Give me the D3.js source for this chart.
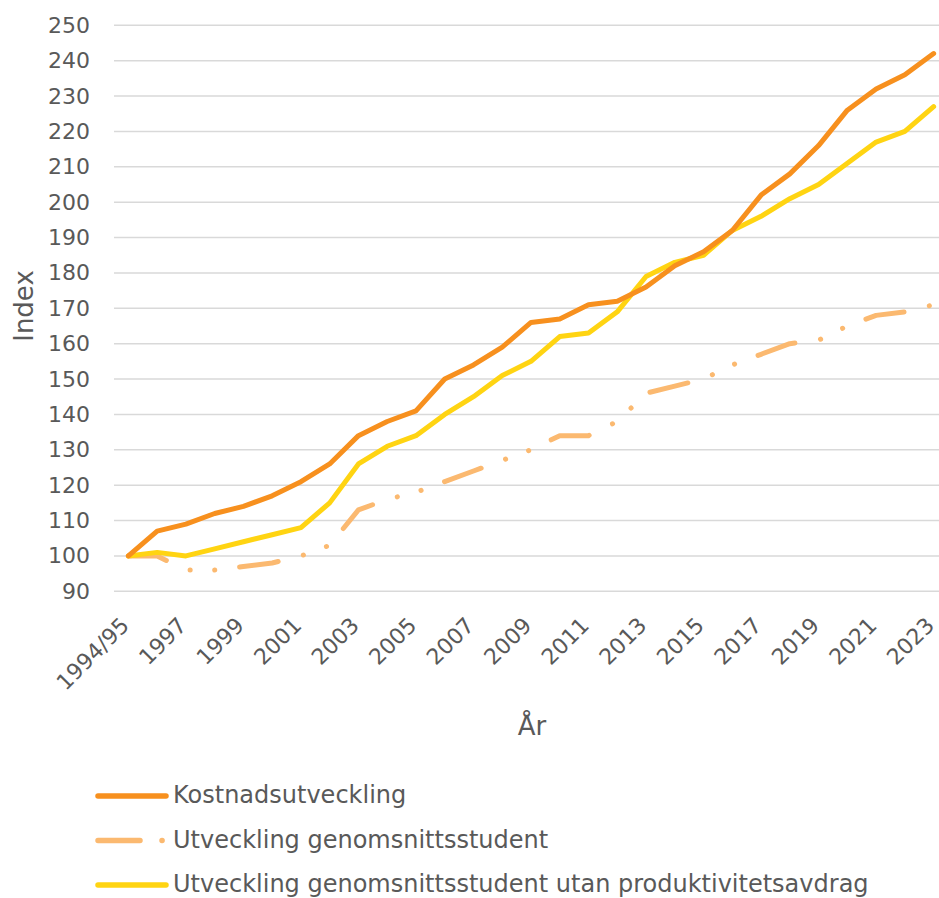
<!DOCTYPE html>
<html>
<head>
<meta charset="utf-8">
<script src="https://cdn.jsdelivr.net/npm/d3@7"></script>
<style>
  body { margin: 0; background: #fff; }
  svg { display: block; font-family: Verdana, "DejaVu Sans", sans-serif; }
</style>
</head>
<body>
<div id="chart"></div>
<script>
// categories (x axis)
const years = ['1994/95', '1996', '1997', '1998', '1999', '2000', '2001', '2002', '2003', '2004',
  '2005', '2006', '2007', '2008', '2009', '2010', '2011', '2012', '2013', '2014',
  '2015', '2016', '2017', '2018', '2019', '2020', '2021', '2022', '2023'];

// series values
const kostnad = [100, 107, 109, 112, 114, 117, 121, 126, 134, 138,
  141, 150, 154, 159, 166, 167, 171, 172, 176, 182,
  186, 192, 202, 208, 216, 226, 232, 236, 242];
const genomsnitt = [100, 100, 96, 96, 97, 98, 100, 103, 113, 116,
  118, 121, 124, 127, 130, 134, 134, 138, 146, 148,
  150, 154, 157, 160, 161, 165, 168, 169, 171];
const utanAvdrag = [100, 101, 100, 102, 104, 106, 108, 115, 126, 131,
  134, 140, 145, 151, 155, 162, 163, 169, 179, 183,
  185, 192, 196, 201, 205, 211, 217, 220, 227];

const yTicks = d3.range(90, 251, 10);
const seriesNames = ['Kostnadsutveckling', 'Utveckling genomsnittsstudent',
  'Utveckling genomsnittsstudent utan produktivitetsavdrag'];

const width = 939, height = 898;
const plotLeft = 114, plotRight = 948, plotTop = 25.3, plotBottom = 591.3;
const textColor = '#595959';
const dashPattern = '39,26,0.1,24.5,0.1,25';

const svg = d3.select('#chart').append('svg')
    .attr('width', width)
    .attr('height', height);

const x = d3.scalePoint()
    .domain(years)
    .range([plotLeft, plotRight])
    .padding(0.5);

const y = d3.scaleLinear()
    .domain([90, 250])
    .range([plotBottom, plotTop]);

// gridlines
svg.append('g')
    .selectAll('line')
    .data(yTicks)
    .enter()
    .append('line')
      .attr('x1', plotLeft)
      .attr('x2', plotRight)
      .attr('y1', (d) => y(d))
      .attr('y2', (d) => y(d))
      .style('stroke', '#d9d9d9')
      .style('stroke-width', 1.5);

// y axis
const yAxis = svg.append('g')
    .attr('transform', `translate(${plotLeft - 24},0)`)
    .call(d3.axisLeft(y).tickValues(yTicks).tickSize(0).tickPadding(0));
yAxis.select('.domain').remove();
yAxis.selectAll('text')
    .style('font-size', '22px')
    .style('fill', textColor)
    .style('font-family', 'Verdana, "DejaVu Sans", sans-serif');

// x axis labels, every other category
const xAxis = svg.append('g')
    .attr('transform', `translate(0,${plotBottom})`)
    .call(d3.axisBottom(x).tickValues(years.filter((d, i) => i % 2 === 0)).tickSize(0));
xAxis.select('.domain').remove();
xAxis.selectAll('text')
    .style('font-size', '22px')
    .style('fill', textColor)
    .style('font-family', 'Verdana, "DejaVu Sans", sans-serif')
    .attr('text-anchor', 'end')
    .attr('y', 0)
    .attr('dy', '0.35em')
    .attr('transform', 'translate(-4,30) rotate(-45)');

// axis titles
svg.append('text')
    .text('Index')
    .attr('transform', 'translate(33,306) rotate(-90)')
    .attr('text-anchor', 'middle')
    .style('font-size', '26px')
    .style('fill', textColor);

svg.append('text')
    .text('År')
    .attr('x', 532)
    .attr('y', 735)
    .attr('text-anchor', 'middle')
    .style('font-size', '26px')
    .style('fill', textColor);

// lines
const line = d3.line()
    .x((d, i) => x(years[i]))
    .y((d) => y(d));

const series = [
  { name: seriesNames[1], values: genomsnitt, color: '#fbb970', dash: dashPattern },
  { name: seriesNames[2], values: utanAvdrag, color: '#ffd412', dash: null },
  { name: seriesNames[0], values: kostnad, color: '#f7901e', dash: null }
];

svg.append('g')
    .selectAll('path')
    .data(series)
    .enter()
    .append('path')
      .attr('d', (d) => line(d.values))
      .style('fill', 'none')
      .style('stroke', (d) => d.color)
      .style('stroke-width', 5)
      .style('stroke-linejoin', 'round')
      .style('stroke-linecap', 'round')
      .style('stroke-dasharray', (d) => d.dash);

// legend
const legendItems = [
  { name: seriesNames[0], color: '#f7901e', dash: null },
  { name: seriesNames[1], color: '#fbb970', dash: dashPattern },
  { name: seriesNames[2], color: '#ffd412', dash: null }
];

const legend = svg.append('g')
    .selectAll('g')
    .data(legendItems)
    .enter()
    .append('g')
      .attr('transform', (d, i) => `translate(0,${796 + i * 44.5})`);

legend.append('line')
    .attr('x1', 98)
    .attr('x2', 166)
    .style('stroke', (d) => d.color)
    .style('stroke-width', 5.5)
    .style('stroke-linecap', 'round')
    .style('stroke-dasharray', (d) => d.dash ? '42,22,0.1,40' : null);

legend.append('text')
    .text((d) => d.name)
    .attr('x', 173)
    .attr('dy', '0.3em')
    .style('font-size', '24px')
    .style('fill', textColor);
</script>
</body>
</html>
